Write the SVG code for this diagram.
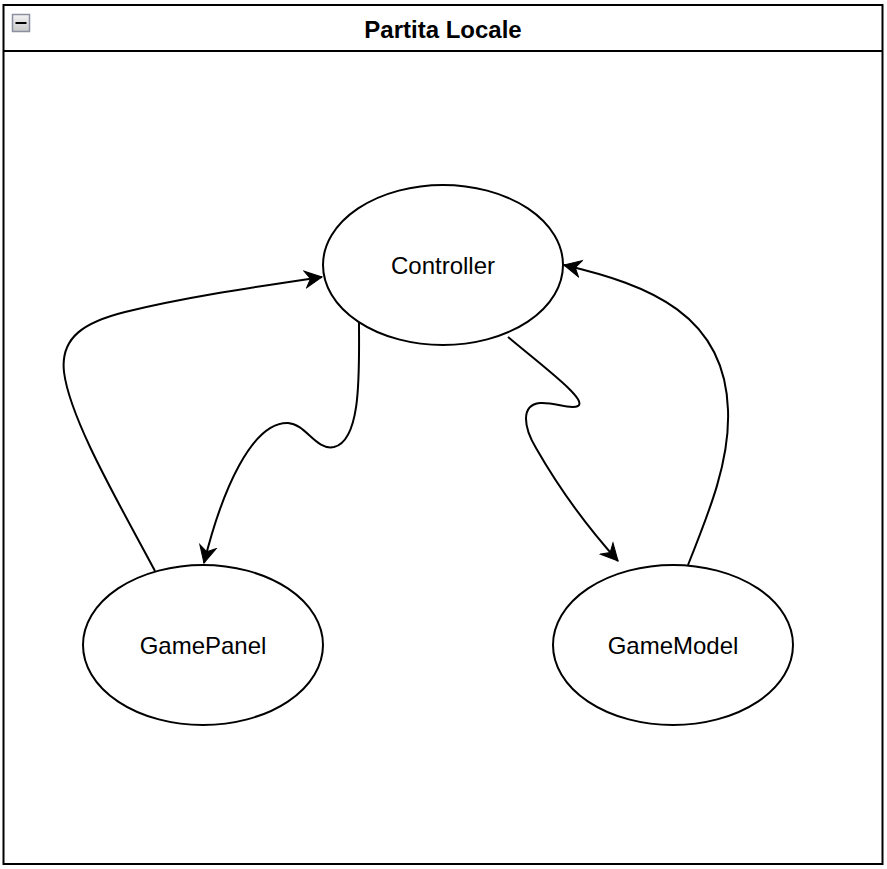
<svg xmlns="http://www.w3.org/2000/svg" width="887" height="869" viewBox="0 0 887 869">
<style>
.node ellipse{fill:#ffffff;stroke:#000000;stroke-width:2}
.lbl{font-family:"Liberation Sans",Arial,Helvetica,sans-serif;font-size:24px;fill:#000000;text-anchor:middle;dominant-baseline:central}
.edge{fill:none;stroke:#000000;stroke-width:2}
</style>
<defs>
<marker id="arr" markerUnits="userSpaceOnUse" markerWidth="20" markerHeight="20" viewBox="-17 -9 19 18" refX="0" refY="0" orient="auto">
<path d="M0,0 L-16,-8 L-11,0 L-16,8 Z" fill="#000000" stroke="#000000" stroke-width="1"/>
</marker>
<linearGradient id="ig" x1="0" y1="0" x2="0" y2="1">
<stop offset="0" stop-color="#f4f4f4"/>
<stop offset="1" stop-color="#c8c8c8"/>
</linearGradient>
</defs>
<rect x="0" y="0" width="887" height="869" fill="#ffffff"/>
<g id="container">
<rect x="3.5" y="5" width="879" height="859" fill="#ffffff" stroke="#000000" stroke-width="2"/>
<line x1="3.5" y1="51" x2="882.5" y2="51" stroke="#000000" stroke-width="2"/>
<rect x="12.5" y="14.5" width="17" height="17" fill="url(#ig)" stroke="#8a90a0" stroke-width="1.5"/>
<line x1="15.5" y1="23" x2="26.5" y2="23" stroke="#000000" stroke-width="2"/>
<text x="443" y="29" class="lbl" style="font-weight:bold">Partita Locale</text>
</g>
<g id="connectors">
<path class="edge" marker-end="url(#arr)" d="M155,571 C 120,505 70,420 64,372 C 60,337 85,322 125,312 C 185,297 255,287 322,277"/>
<path class="edge" marker-end="url(#arr)" d="M359,322 C 359,370 362,440 334,447 C 316,451 306,424 288,423 C 252,422 222,490 204,563"/>
<path class="edge" marker-end="url(#arr)" d="M508,337 C 545,368 588,400 578,406 C 570,410 555,402 540,403 C 520,405 524,428 536,448 C 560,490 590,530 618,561"/>
<path class="edge" marker-end="url(#arr)" d="M688,565 C 710,510 730,460 728,410 C 725,315 650,285 564,265"/>
</g>
<g id="controller" class="node">
<ellipse cx="443" cy="265" rx="120" ry="80"/>
<text x="443" y="265" class="lbl">Controller</text>
</g>
<g id="gamepanel" class="node">
<ellipse cx="203" cy="645" rx="120" ry="80"/>
<text x="203" y="645" class="lbl">GamePanel</text>
</g>
<g id="gamemodel" class="node">
<ellipse cx="673" cy="645" rx="120" ry="80"/>
<text x="673" y="645" class="lbl">GameModel</text>
</g>
</svg>
